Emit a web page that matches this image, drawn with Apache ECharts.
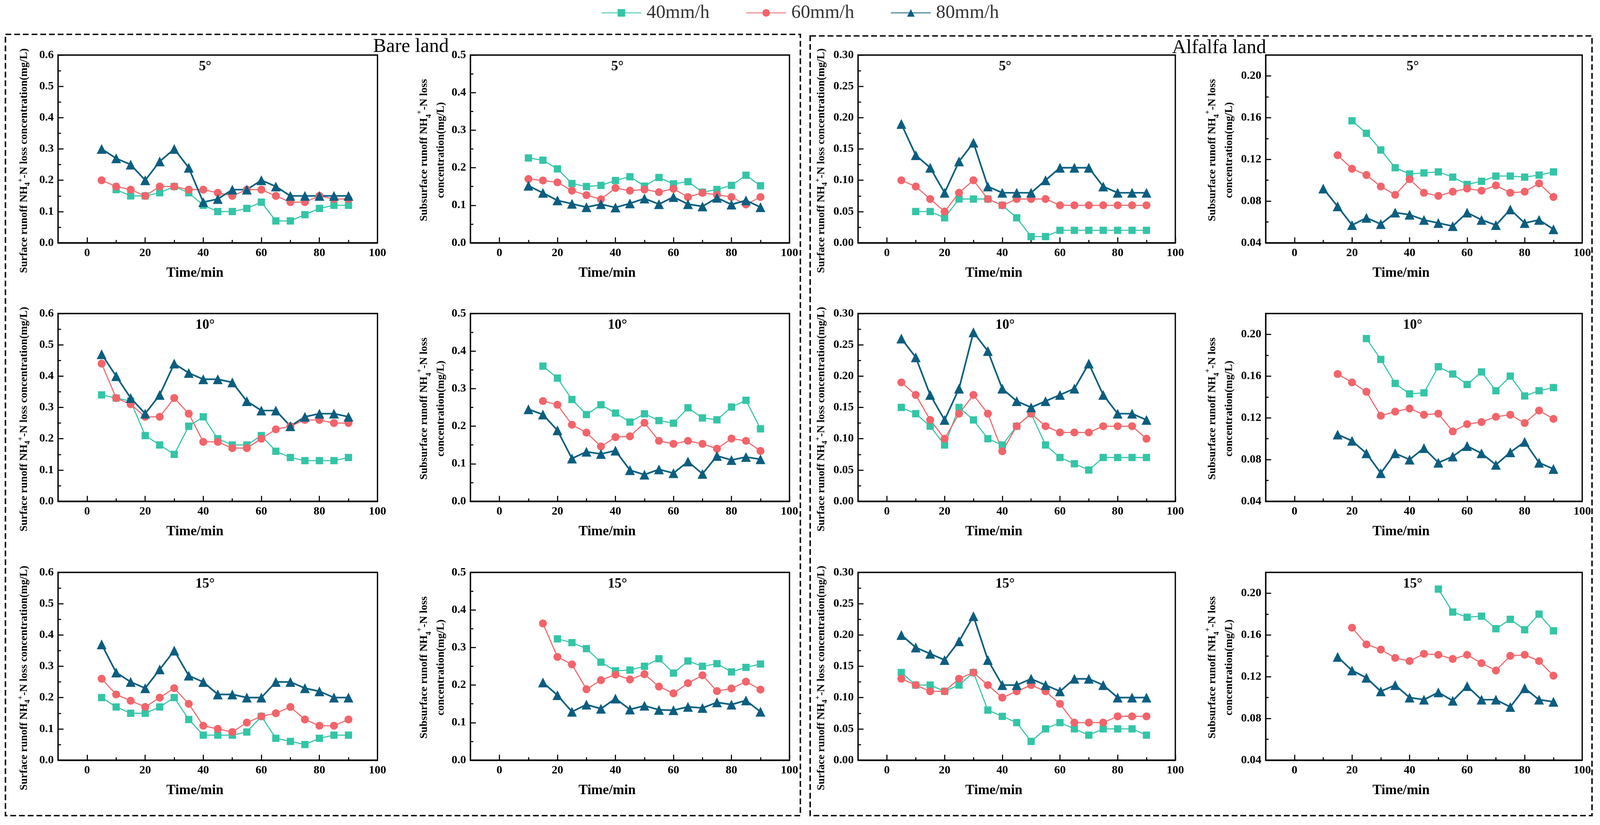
<!DOCTYPE html>
<html><head><meta charset="utf-8">
<script src="https://cdn.jsdelivr.net/npm/echarts/dist/echarts.min.js"></script>
<style>html,body{margin:0;padding:0;background:#fff;overflow:hidden}#c{width:100vw;height:100vh}</style>
</head><body><div id="c"></div>
<script>
// ---------- data ----------
const timeMin = [5,10,15,20,25,30,35,40,45,50,55,60,65,70,75,80,85,90];
const seriesNames = ['40mm/h','60mm/h','80mm/h'];
const slopeTitles = ['5°','10°','15°'];
const xMajorTicks = [0,20,40,60,80,100];
const xMinorTicks = [10,30,50,70,90];

const bareSurf5_40 = [null,0.17,0.15,0.15,0.16,0.18,0.16,0.12,0.10,0.10,0.11,0.13,0.07,0.07,0.09,0.11,0.12,0.12];
const bareSurf5_60 = [0.20,0.18,0.17,0.15,0.18,0.18,0.17,0.17,0.16,0.15,0.17,0.17,0.15,0.13,0.13,0.15,0.14,0.14];
const bareSurf5_80 = [0.30,0.27,0.25,0.20,0.26,0.30,0.24,0.13,0.14,0.17,0.17,0.20,0.18,0.15,0.15,0.15,0.15,0.15];

const bareSub5_40 = [null,0.226,0.220,0.197,0.158,0.150,0.153,0.166,0.176,0.151,0.174,0.157,0.163,0.135,0.142,0.153,0.180,0.152];
const bareSub5_60 = [null,0.170,0.166,0.161,0.139,0.127,0.116,0.146,0.139,0.142,0.135,0.144,0.122,0.133,0.128,0.122,0.102,0.122];
const bareSub5_80 = [null,0.152,0.133,0.113,0.104,0.095,0.103,0.094,0.105,0.118,0.103,0.122,0.103,0.097,0.120,0.102,0.113,0.095];

const alfSurf5_40 = [null,0.05,0.05,0.04,0.07,0.07,0.07,0.06,0.04,0.01,0.01,0.02,0.02,0.02,0.02,0.02,0.02,0.02];
const alfSurf5_60 = [0.10,0.09,0.07,0.05,0.08,0.10,0.07,0.06,0.07,0.07,0.07,0.06,0.06,0.06,0.06,0.06,0.06,0.06];
const alfSurf5_80 = [0.19,0.14,0.12,0.08,0.13,0.16,0.09,0.08,0.08,0.08,0.10,0.12,0.12,0.12,0.09,0.08,0.08,0.08];

const alfSub5_40 = [null,null,null,0.157,0.145,0.129,0.112,0.106,0.107,0.108,0.103,0.096,0.099,0.104,0.104,0.103,0.105,0.108];
const alfSub5_60 = [null,null,0.124,0.111,0.105,0.094,0.086,0.101,0.088,0.085,0.089,0.092,0.090,0.095,0.088,0.089,0.097,0.084];
const alfSub5_80 = [null,0.092,0.075,0.057,0.064,0.058,0.069,0.067,0.062,0.059,0.056,0.069,0.062,0.057,0.072,0.059,0.062,0.053];

const bareSurf10_40 = [0.34,0.33,0.32,0.21,0.18,0.15,0.24,0.27,0.20,0.18,0.18,0.21,0.16,0.14,0.13,0.13,0.13,0.14];
const bareSurf10_60 = [0.44,0.33,0.31,0.27,0.27,0.33,0.28,0.19,0.19,0.17,0.17,0.20,0.23,0.24,0.26,0.26,0.25,0.25];
const bareSurf10_80 = [0.47,0.40,0.33,0.28,0.34,0.44,0.41,0.39,0.39,0.38,0.32,0.29,0.29,0.24,0.27,0.28,0.28,0.27];

const bareSub10_40 = [null,null,0.360,0.328,0.271,0.231,0.257,0.235,0.211,0.233,0.215,0.208,0.249,0.222,0.217,0.251,0.269,0.193];
const bareSub10_60 = [null,null,0.267,0.257,0.204,0.183,0.146,0.171,0.173,0.209,0.161,0.153,0.161,0.153,0.140,0.167,0.161,0.134];
const bareSub10_80 = [null,0.245,0.231,0.189,0.114,0.132,0.126,0.135,0.083,0.071,0.085,0.075,0.106,0.073,0.121,0.110,0.118,0.112];

const alfSurf10_40 = [0.15,0.14,0.12,0.09,0.15,0.13,0.10,0.09,0.12,0.14,0.09,0.07,0.06,0.05,0.07,0.07,0.07,0.07];
const alfSurf10_60 = [0.19,0.17,0.13,0.10,0.14,0.17,0.14,0.08,0.12,0.14,0.12,0.11,0.11,0.11,0.12,0.12,0.12,0.10];
const alfSurf10_80 = [0.26,0.23,0.17,0.13,0.18,0.27,0.24,0.18,0.16,0.15,0.16,0.17,0.18,0.22,0.17,0.14,0.14,0.13];

const alfSub10_40 = [null,null,null,null,0.196,0.176,0.153,0.143,0.144,0.169,0.162,0.152,0.164,0.146,0.160,0.141,0.146,0.149];
const alfSub10_60 = [null,null,0.162,0.154,0.145,0.122,0.126,0.129,0.123,0.124,0.107,0.114,0.116,0.121,0.123,0.115,0.127,0.119];
const alfSub10_80 = [null,null,0.104,0.098,0.086,0.067,0.086,0.080,0.091,0.077,0.083,0.093,0.086,0.075,0.087,0.097,0.077,0.071];

const bareSurf15_40 = [0.20,0.17,0.15,0.15,0.17,0.20,0.13,0.08,0.08,0.08,0.09,0.14,0.07,0.06,0.05,0.07,0.08,0.08];
const bareSurf15_60 = [0.26,0.21,0.19,0.17,0.20,0.23,0.18,0.11,0.10,0.09,0.12,0.14,0.15,0.17,0.13,0.11,0.11,0.13];
const bareSurf15_80 = [0.37,0.28,0.25,0.23,0.29,0.35,0.27,0.25,0.21,0.21,0.20,0.20,0.25,0.25,0.23,0.22,0.20,0.20];

const bareSub15_40 = [null,null,null,0.323,0.313,0.297,0.261,0.238,0.240,0.250,0.270,0.232,0.264,0.250,0.257,0.235,0.247,0.256];
const bareSub15_60 = [null,null,0.364,0.275,0.255,0.189,0.213,0.228,0.215,0.229,0.196,0.178,0.205,0.226,0.184,0.191,0.209,0.188];
const bareSub15_80 = [null,null,0.207,0.173,0.129,0.148,0.137,0.164,0.135,0.145,0.134,0.133,0.142,0.139,0.154,0.148,0.159,0.129];

const alfSurf15_40 = [0.14,0.12,0.12,0.11,0.12,0.14,0.08,0.07,0.06,0.03,0.05,0.06,0.05,0.04,0.05,0.05,0.05,0.04];
const alfSurf15_60 = [0.13,0.12,0.11,0.11,0.13,0.14,0.12,0.10,0.11,0.12,0.11,0.09,0.06,0.06,0.06,0.07,0.07,0.07];
const alfSurf15_80 = [0.20,0.18,0.17,0.16,0.19,0.23,0.16,0.12,0.12,0.13,0.12,0.11,0.13,0.13,0.12,0.10,0.10,0.10];

const alfSub15_40 = [null,null,null,null,null,null,null,null,null,0.204,0.182,0.177,0.178,0.166,0.175,0.165,0.180,0.164];
const alfSub15_60 = [null,null,null,0.167,0.151,0.146,0.138,0.135,0.142,0.141,0.137,0.141,0.133,0.126,0.140,0.141,0.135,0.121];
const alfSub15_80 = [null,null,0.139,0.126,0.119,0.106,0.112,0.100,0.098,0.105,0.097,0.111,0.098,0.098,0.091,0.109,0.098,0.096];

// y-axis tick values per column
const yTicksCol1 = [0,0.1,0.2,0.3,0.4,0.5,0.6];
const yMinorCol1 = [0.05,0.15,0.25,0.35,0.45,0.55];
const yTicksCol2 = [0,0.1,0.2,0.3,0.4,0.5];
const yMinorCol2 = [0.05,0.15,0.25,0.35,0.45];
const yTicksCol3 = [0,0.05,0.10,0.15,0.20,0.25,0.30];
const yMinorCol3 = [0.025,0.075,0.125,0.175,0.225,0.275];
const yTicksCol4 = [0.04,0.08,0.12,0.16,0.20];
const yMinorCol4 = [0.06,0.10,0.14,0.18];

// ---------- layout / style (design space 4408 x 2113, scaled to the viewport) ----------
const el = document.getElementById('c');
const W = el.clientWidth || 4408, H = el.clientHeight || 2113;
const sx = W / 4408, sy = H / 2113, sf = Math.min(sx, sy);
const X = v => v * sx, Y = v => v * sy, F = v => v * sf;

const FONT = '"Liberation Serif", "Times New Roman", serif';
const COLORS = ['#33C5A6','#F2646A','#0B5E80'];
const SYMBOLS = ['rect','circle','triangle'];
const SYM_SIZE = [20,22,27];
const LINE_W = [3,3,4.5];

const colLeft = [160,1296,2364,3487];
const colWidth = [880,879,874,872];
const rowTop = [141,803,1466];
const rowH = 481;

const yCfg = [
  {min:0, max:0.6, interval:0.1, major:yTicksCol1, minor:yMinorCol1, dec:1},
  {min:0, max:0.5, interval:0.1, major:yTicksCol2, minor:yMinorCol2, dec:1},
  {min:0, max:0.3, interval:0.05, major:yTicksCol3, minor:yMinorCol3, dec:2},
  {min:0.04, max:0.22, interval:0.04, major:yTicksCol4, minor:yMinorCol4, dec:2}
];

const panelData = [
  [[bareSurf5_40,bareSurf5_60,bareSurf5_80],[bareSub5_40,bareSub5_60,bareSub5_80],[alfSurf5_40,alfSurf5_60,alfSurf5_80],[alfSub5_40,alfSub5_60,alfSub5_80]],
  [[bareSurf10_40,bareSurf10_60,bareSurf10_80],[bareSub10_40,bareSub10_60,bareSub10_80],[alfSurf10_40,alfSurf10_60,alfSurf10_80],[alfSub10_40,alfSub10_60,alfSub10_80]],
  [[bareSurf15_40,bareSurf15_60,bareSurf15_80],[bareSub15_40,bareSub15_60,bareSub15_80],[alfSurf15_40,alfSurf15_60,alfSurf15_80],[alfSub15_40,alfSub15_60,alfSub15_80]]
];

const grids = [], xAxes = [], yAxes = [], series = [], graphics = [];
const tickStyle = {color:'#000', width:F(3)};
const labelBase = {fontFamily:FONT, fontWeight:'bold', fontSize:F(32), color:'#000', margin:F(12)};

const nameOffX = [-93,-104,-101,-124];
const nameOffY = [30,3,30,3];

function richBase(lh){
  return {
    a:{fontFamily:FONT, fontWeight:'bold', fontSize:F(30), lineHeight:F(lh), fill:'#000', color:'#000'},
    sub:{fontFamily:FONT, fontWeight:'bold', fontSize:F(20), lineHeight:F(22), verticalAlign:'bottom', fill:'#000', color:'#000'},
    sup:{fontFamily:FONT, fontWeight:'bold', fontSize:F(20), lineHeight:F(22), verticalAlign:'top', fill:'#000', color:'#000'}
  };
}

let idx = 0;
for (let r = 0; r < 3; r++) {
  for (let c = 0; c < 4; c++) {
    const left = colLeft[c], top = rowTop[r], w = colWidth[c];
    const yc = yCfg[c];
    grids.push({left:X(left), top:Y(top), width:X(w), height:Y(rowH), show:true, borderColor:'#000', borderWidth:F(3.5), backgroundColor:'transparent'});
    xAxes.push({
      gridIndex:idx, type:'value', min:-10, max:100, interval:10, position:'bottom',
      axisLine:{show:true, onZero:false, lineStyle:{color:'#000', width:F(3.5)}},
      axisTick:{show:true, inside:true, length:F(15), customValues:xMajorTicks, lineStyle:tickStyle},
      axisLabel:Object.assign({customValues:xMajorTicks, formatter:v => (v >= 0 && v % 20 === 0) ? String(v) : ''}, labelBase),
      splitLine:{show:false},
      name:'Time/min', nameLocation:'middle', nameGap:Y(60),
      nameTextStyle:{fontFamily:FONT, fontWeight:'bold', fontSize:F(38), color:'#000', padding:[0,X(126),0,0]}
    });
    xAxes.push({
      gridIndex:idx, type:'value', min:-10, max:100, interval:10, position:'bottom',
      axisLine:{show:false, onZero:false},
      axisTick:{show:true, inside:true, length:F(8), customValues:xMinorTicks, lineStyle:tickStyle},
      axisLabel:{show:false}, splitLine:{show:false}
    });
    const majors = yc.major;
    yAxes.push({
      gridIndex:idx, type:'value', min:yc.min, max:yc.max, interval:yc.interval, position:'left',
      axisLine:{show:true, onZero:false, lineStyle:{color:'#000', width:F(3.5)}},
      axisTick:{show:true, inside:true, length:F(15), customValues:majors, lineStyle:tickStyle},
      axisLabel:Object.assign({customValues:majors, formatter:v => majors.some(m => Math.abs(m - v) < 1e-9) ? v.toFixed(yc.dec) : ''}, labelBase),
      splitLine:{show:false}
    });
    yAxes.push({
      gridIndex:idx, type:'value', min:yc.min, max:yc.max, interval:yc.interval, position:'left',
      axisLine:{show:false, onZero:false},
      axisTick:{show:true, inside:true, length:F(8), customValues:yc.minor, lineStyle:tickStyle},
      axisLabel:{show:false}, splitLine:{show:false}
    });

    const d3 = panelData[r][c];
    for (let s = 0; s < 3; s++) {
      series.push({
        type:'line', name:seriesNames[s], xAxisIndex:2*idx, yAxisIndex:2*idx,
        data: timeMin.map((t,i) => [t, d3[s][i]]).filter(p => p[1] !== null),
        symbol:SYMBOLS[s], symbolSize:F(SYM_SIZE[s]),
        lineStyle:{color:COLORS[s], width:F(LINE_W[s])},
        itemStyle:{color:COLORS[s]},
        clip:false
      });
    }

    graphics.push({type:'text', x:X(left + 405), y:Y(top + 30),
      style:{text:slopeTitles[r], font:'bold ' + F(38) + 'px ' + FONT, fill:'#000', align:'center', verticalAlign:'middle', textAlign:'center', textVerticalAlign:'middle'}});

    const surface = (c % 2 === 0);
    const txt = surface
      ? '{a|Surface runoff NH}{sub|4}{sup|+}{a|-N loss concentration(mg/L)}'
      : '{a|Subsurface runoff NH}{sub|4}{sup|+}{a|-N loss}\n{a|concentration(mg/L)}';
    graphics.push({type:'text', x:X(left + nameOffX[c]), y:Y(top + rowH/2 + nameOffY[c]), rotation:Math.PI/2,
      style:{text:txt, rich:richBase(surface ? 40 : 46), font:'bold ' + F(30) + 'px ' + FONT, fill:'#000',
        align:'center', verticalAlign:'middle', textAlign:'center', textVerticalAlign:'middle'}});
    idx++;
  }
}

graphics.push({type:'rect', shape:{x:X(15), y:Y(88), width:X(2190), height:Y(2001)},
  style:{fill:'none', stroke:'#000', lineWidth:F(4), lineDash:[F(16),F(8)]}, z:-1});
graphics.push({type:'rect', shape:{x:X(2232), y:Y(92), width:X(2154), height:Y(1997)},
  style:{fill:'none', stroke:'#000', lineWidth:F(4), lineDash:[F(16),F(8)]}, z:-1});
graphics.push({type:'text', x:X(1028), y:Y(120),
  style:{text:'Bare land', font:F(54) + 'px ' + FONT, fill:'#000', align:'left', verticalAlign:'middle', textAlign:'left', textVerticalAlign:'middle'}});
graphics.push({type:'text', x:X(3229), y:Y(123),
  style:{text:'Alfalfa land', font:F(54) + 'px ' + FONT, fill:'#000', align:'left', verticalAlign:'middle', textAlign:'left', textVerticalAlign:'middle'}});

const chart = echarts.init(el, null, {renderer:'canvas'});
chart.setOption({
  backgroundColor:'#fff',
  animation:false,
  legend:{
    data:seriesNames, top:Y(4), left:'center', itemWidth:X(110), itemHeight:F(26), itemGap:X(100),
    textStyle:{fontFamily:FONT, fontSize:F(52), color:'#333', padding:[0,0,0,X(9)]}
  },
  grid:grids, xAxis:xAxes, yAxis:yAxes, series:series, graphic:graphics
});
</script></body></html>
